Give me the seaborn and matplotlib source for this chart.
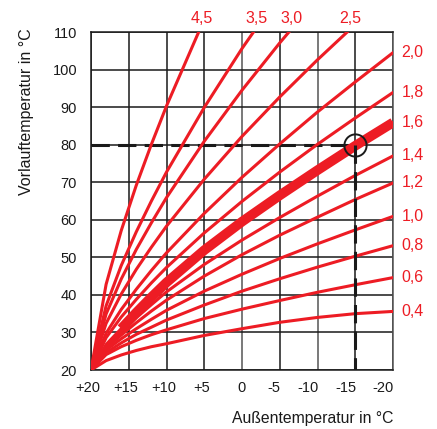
import numpy as np
import pandas as pd
import matplotlib
matplotlib.use("Agg")
import matplotlib.pyplot as plt
import matplotlib.transforms as mtrans
import seaborn as sns

# outside temperature points (deg C) at which the curves were read
outside = [20, 18, 16, 14, 12, 10, 5, 0, -5, -10, -15, -20]

# flow temperature for each heating-curve slope
curve_04 = [20, 22.5, 24.0, 25.2, 26.2, 27.0, 29.2, 31.0, 32.7, 34.0, 35.0, 35.6]
curve_06 = [20, 24.1, 26.2, 27.9, 29.4, 30.7, 33.7, 36.2, 38.5, 40.7, 42.7, 44.6]
curve_08 = [20, 24.6, 27.2, 29.5, 31.4, 33.3, 37.3, 41.0, 44.3, 47.4, 50.3, 53.1]
curve_10 = [20, 25.3, 28.3, 31.0, 33.5, 35.9, 41.0, 45.5, 49.7, 53.6, 57.3, 60.9]
curve_12 = [20, 25.8, 29.3, 32.6, 35.7, 38.6, 45.0, 50.7, 55.9, 60.7, 65.4, 69.8]
curve_14 = [20, 26.3, 30.1, 33.9, 37.4, 40.8, 48.1, 54.6, 60.6, 66.3, 71.8, 77.0]
curve_16 = [20, 26.8, 31.0, 35.3, 39.4, 43.3, 51.9, 59.5, 66.5, 73.2, 79.7, 85.9]
curve_18 = [20, 28.6, 34.1, 38.8, 43.2, 47.3, 56.5, 64.9, 72.7, 80.1, 87.1, 93.9]
curve_20 = [20, 29.8, 36.1, 41.5, 46.5, 51.2, 61.7, 71.3, 80.2, 88.7, 96.7, 104.5]
curve_25 = [20, 32.4, 40.2, 46.8, 52.7, 58.3, 70.8, 82.2, 92.7, 102.6, 112.0]
curve_30 = [20, 34.9, 44.2, 52.1, 59.2, 65.9, 80.9, 94.5, 107.1, 119.0]
curve_35 = [20, 37.1, 47.8, 56.8, 65.0, 72.7, 89.9, 105.6, 120.0]
curve_45 = [20, 42.8, 57.1, 69.2, 80.1, 90.3, 113.4]

right_labels = ["0,4", "0,6", "0,8", "1,0", "1,2", "1,4", "1,6", "1,8", "2,0"]
right_curves = [curve_04, curve_06, curve_08, curve_10, curve_12, curve_14,
                curve_16, curve_18, curve_20]
top_labels = ["2,5", "3,0", "3,5", "4,5"]
top_curves = [curve_25, curve_30, curve_35, curve_45]

x_ticks = [20, 15, 10, 5, 0, -5, -10, -15, -20]
x_ticklabels = ["+20", "+15", "+10", "+5", "0", "-5", "-10", "-15", "-20"]
y_ticks = [20, 30, 40, 50, 60, 70, 80, 90, 100, 110]

# design point marked on the chart
design_out = -15
design_flow = 80

RED = "#ED1C24"
INK = "#1a1a1a"
PALE = "#555555"

rows = []
for name, vals in zip(right_labels + top_labels, right_curves + top_curves):
    for t, v in zip(outside, vals):
        rows.append({"curve": name, "aussen": t, "vorlauf": v})
df = pd.DataFrame(rows)

sns.set_style("white")
plt.rcParams["font.family"] = ["Liberation Sans", "DejaVu Sans"]

fig = plt.figure(figsize=(4.37, 4.29), dpi=100)
ax = fig.add_axes([91 / 437, 1 - 370 / 429, 302 / 437, 338 / 429])

sns.lineplot(data=df, x="aussen", y="vorlauf", units="curve", estimator=None,
             sort=False, color=RED, lw=2.2, ax=ax, zorder=3)

# thick highlighted curve (1,6)
thick = df[(df.curve == "1,6") & (df.aussen <= 16)]
sns.lineplot(data=thick, x="aussen", y="vorlauf", estimator=None, sort=False,
             color=RED, lw=7, ax=ax, zorder=3, solid_capstyle="butt")

# design point: dashed guides and circle
ax.plot([20, design_out], [design_flow, design_flow], color=INK, lw=2.2,
        dashes=(6, 2.7), zorder=2)
ax.plot([design_out, design_out], [design_flow, 20], color=INK, lw=2.2,
        dashes=(6, 2.7), zorder=4)
ax.plot([design_out], [design_flow], marker="o", ms=16, mfc="none", mec=INK,
        mew=1.4, zorder=5)

ax.set_xlim(20, -20)
ax.set_ylim(20, 110)
ax.set_xticks(x_ticks)
ax.set_xticklabels(x_ticklabels)
ax.set_yticks(y_ticks)
ax.set_xlabel("")
ax.set_ylabel("")
ax.grid(True, color=INK, lw=1.1)
ax.set_axisbelow(True)
# a few vertical rules print lighter in the original
for i, gl in enumerate(ax.xaxis.get_gridlines()):
    if x_ticks[i] in (0, -10):
        gl.set_color(PALE)
for sp in ax.spines.values():
    sp.set_color(INK)
    sp.set_linewidth(1.1)
ax.spines["right"].set_color(PALE)
ax.tick_params(length=0, labelsize=10.5, colors=INK)
ax.tick_params(axis="x", pad=8)
ax.tick_params(axis="y", pad=10)

for lbl in ax.get_xticklabels():
    if lbl.get_text().startswith("-"):
        lbl.set_horizontalalignment("right")
        off = mtrans.ScaledTranslation(0.01, 0, fig.dpi_scale_trans)
    else:
        off = mtrans.ScaledTranslation(-0.03 if lbl.get_text() != "0" else 0, 0,
                                       fig.dpi_scale_trans)
    lbl.set_transform(lbl.get_transform() + off)

# slope labels on the right edge
for name, vals in zip(right_labels, right_curves):
    ax.annotate(name, xy=(1, vals[-1]), xycoords=("axes fraction", "data"),
                xytext=(6, 0), textcoords="offset points", ha="left",
                va="center", color=RED, fontsize=11.5)

# slope labels above the top edge
for name, vals in zip(top_labels, top_curves):
    t_top = np.interp(110, vals, outside[:len(vals)])
    ax.annotate(name, xy=(t_top, 1), xycoords=("data", "axes fraction"),
                xytext=(2, 10), textcoords="offset points", ha="center",
                va="center", color=RED, fontsize=11.5)

fig.text(27 / 437, 1 - 112 / 429, "Vorlauftemperatur in °C", rotation=90,
         ha="center", va="center", fontsize=11.5, color=INK)
fig.text(393 / 437, 1 - 419 / 429, "Außentemperatur in °C", ha="right",
         va="center", fontsize=11.3, color=INK)

fig.savefig("out.png", dpi=100)
